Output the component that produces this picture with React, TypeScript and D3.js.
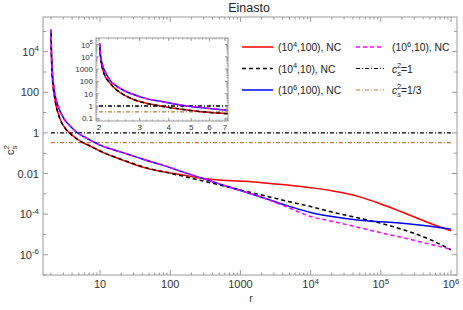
import React from 'react';
import * as d3 from 'd3';

// radius values (r)
const rValues = [2.012, 2.03, 2.06, 2.1, 2.15, 2.23, 2.35, 2.54, 2.8, 3.2, 3.67, 4.7, 6, 7, 10, 16, 25, 41, 72, 100, 150, 295, 500, 1000, 2000, 5000, 1e4, 2e4, 5e4, 1e5, 2e5, 5e5, 1e6];
// log10(c_s^2) for each series
const redLog = [5.0, 3.95, 3.2, 2.65, 2.25, 1.87, 1.4, 0.95, 0.55, 0.22, 0.0, -0.3, -0.52, -0.62, -0.9, -1.19, -1.44, -1.69, -1.89, -1.97, -2.07, -2.25, -2.32, -2.38, -2.45, -2.58, -2.7, -2.85, -3.15, -3.5, -3.9, -4.45, -4.82];
const blackLog = [5.0, 3.95, 3.2, 2.65, 2.25, 1.87, 1.4, 0.95, 0.55, 0.22, 0.0, -0.3, -0.52, -0.62, -0.89, -1.18, -1.42, -1.67, -1.88, -1.99, -2.13, -2.37, -2.56, -2.81, -3.06, -3.39, -3.63, -3.9, -4.2, -4.45, -4.75, -5.25, -5.76];
const blueLog = [5.1, 4.15, 3.5, 3.0, 2.6, 2.1, 1.7, 1.3, 0.95, 0.6, 0.38, 0.02, -0.2, -0.33, -0.6, -0.84, -1.05, -1.3, -1.55, -1.71, -1.92, -2.25, -2.51, -2.84, -3.17, -3.62, -3.92, -4.12, -4.3, -4.38, -4.45, -4.6, -4.74];
const magentaLog = [5.1, 4.15, 3.5, 3.0, 2.6, 2.1, 1.7, 1.3, 0.95, 0.6, 0.38, 0.02, -0.2, -0.33, -0.6, -0.84, -1.05, -1.3, -1.55, -1.71, -1.92, -2.25, -2.51, -2.84, -3.17, -3.7, -4.12, -4.35, -4.67, -4.92, -5.15, -5.48, -5.73];
const hLines = [1, 1 / 3];
const hRange = [2, 1e6];

const mainXTicks = [10, 100, 1000, 1e4, 1e5, 1e6];
const mainXLabels = [['10', ''], ['100', ''], ['1000', ''], ['10', '4'], ['10', '5'], ['10', '6']];
const mainYTicks = [1e4, 100, 1, 0.01, 1e-4, 1e-6];
const mainYLabels = [['10', '4'], ['100', ''], ['1', ''], ['0.01', ''], ['10', '-4'], ['10', '-6']];
const insetXTicks = [2, 3, 4, 5, 6, 7];
const insetYTicks = [1e5, 1e4, 1000, 100, 10, 1, 0.1];
const insetYLabels = [['10', '5'], ['10', '4'], ['1000', ''], ['100', ''], ['10', ''], ['1', ''], ['0.1', '']];

const legendItems = [
  { label: ['(10', '4', ',100), NC'], color: '#ff0000', dash: '' },
  { label: ['(10', '4', ',10), NC'], color: '#000000', dash: '4,3' },
  { label: ['(10', '6', ',100), NC'], color: '#0000ff', dash: '' },
  { label: ['(10', '6', ',10), NC'], color: '#ff00ff', dash: '4,3' },
];

const FONT = 'Liberation Sans, Arial, sans-serif';
const FRAME = '#9a9a9a';
const TXT = '#333';

const M = { left: 43, right: 457, top: 17, bottom: 275 };
const I = { left: 96, right: 228, top: 38, bottom: 121 };

const xMain = d3.scaleLog().domain([10 ** 0.188, 10 ** 6.085]).range([M.left, M.right]);
const yMain = d3.scaleLog().domain([1e-7, 10 ** 5.71]).range([M.bottom, M.top]);
const xIn = d3.scaleLog().domain([10 ** 0.288, 10 ** 0.858]).range([I.left, I.right]);
const yIn = d3.scaleLog().domain([10 ** -1.22, 10 ** 5.53]).range([I.bottom, I.top]);

const series = [
  { vals: redLog, color: '#ff0000', dash: '' },
  { vals: blackLog, color: '#000000', dash: '4,3' },
  { vals: blueLog, color: '#0000ff', dash: '' },
  { vals: magentaLog, color: '#ff00ff', dash: '4,3' },
];

function Sup({ x, y, base, sup, anchor, size }: any) {
  return (
    <text x={x} y={y} textAnchor={anchor} fontSize={size} fontFamily={FONT} fill={TXT}>
      {base}
      {sup ? <tspan dy={-size * 0.4} fontSize={size * 0.72}>{sup}</tspan> : null}
    </text>
  );
}

export default function App() {
  const mkLine = (xs: any, ys: any, maxR: number) =>
    (vals: number[]) => {
      const pts = rValues.map((r, i) => [r, 10 ** vals[i]] as [number, number]).filter(p => p[0] <= maxR * 1.5);
      return d3.line<[number, number]>().x(d => xs(d[0])).y(d => ys(d[1])).curve(d3.curveMonotoneX)(pts) || '';
    };
  const mainLine = mkLine(xMain, yMain, 1e7);
  const inLine = mkLine(xIn, yIn, 10);

  const minorX: number[] = [];
  for (let e = 0; e <= 5; e++) for (let k = 2; k <= 9; k++) {
    const v = k * 10 ** e;
    if (v >= xMain.domain()[0] && v <= xMain.domain()[1]) minorX.push(v);
  }
  const minorY = [1e5, 1e3, 10, 0.1, 1e-3, 1e-5, 1e-7].filter(v => v >= 1e-7 && v <= yMain.domain()[1]);
  const inMinorX: number[] = [];
  for (let v = 2; v <= 7.2; v += 0.2) inMinorX.push(+v.toFixed(1));
  const inMinorY: number[] = [];
  for (let e = -2; e <= 5; e++) for (let k = 2; k <= 9; k++) {
    const v = k * 10 ** e;
    if (v >= yIn.domain()[0] && v <= yIn.domain()[1]) inMinorY.push(v);
  }

  return (
    <svg width={463} height={310} style={{ position: 'absolute', left: 0, top: 0, background: '#fff' }}>
      <defs>
        <clipPath id="cm"><rect x={M.left} y={M.top} width={M.right - M.left} height={M.bottom - M.top} /></clipPath>
        <clipPath id="ci"><rect x={I.left} y={I.top} width={I.right - I.left} height={I.bottom - I.top} /></clipPath>
      </defs>
      <text x={249} y={12} textAnchor="middle" fontSize={12.5} fontFamily={FONT} fill="#222">Einasto</text>

      {/* main frame */}
      <rect x={M.left} y={M.top} width={M.right - M.left} height={M.bottom - M.top} fill="none" stroke={FRAME} strokeWidth={1} />
      {mainXTicks.map(v => (
        <g key={'mx' + v}>
          <line x1={xMain(v)} x2={xMain(v)} y1={M.bottom} y2={M.bottom - 5} stroke={FRAME} />
          <line x1={xMain(v)} x2={xMain(v)} y1={M.top} y2={M.top + 5} stroke={FRAME} />
        </g>
      ))}
      {minorX.map(v => (
        <g key={'mnx' + v}>
          <line x1={xMain(v)} x2={xMain(v)} y1={M.bottom} y2={M.bottom - 2.5} stroke={FRAME} />
          <line x1={xMain(v)} x2={xMain(v)} y1={M.top} y2={M.top + 2.5} stroke={FRAME} />
        </g>
      ))}
      {mainYTicks.map(v => (
        <g key={'my' + v}>
          <line x1={M.left} x2={M.left + 5} y1={yMain(v)} y2={yMain(v)} stroke={FRAME} />
          <line x1={M.right} x2={M.right - 5} y1={yMain(v)} y2={yMain(v)} stroke={FRAME} />
        </g>
      ))}
      {minorY.map(v => (
        <g key={'mny' + v}>
          <line x1={M.left} x2={M.left + 3} y1={yMain(v)} y2={yMain(v)} stroke={FRAME} />
          <line x1={M.right} x2={M.right - 3} y1={yMain(v)} y2={yMain(v)} stroke={FRAME} />
        </g>
      ))}
      {mainXTicks.map((v, i) => (
        <Sup key={'mxl' + v} x={xMain(v)} y={M.bottom + 13} base={mainXLabels[i][0]} sup={mainXLabels[i][1]} anchor="middle" size={11} />
      ))}
      {mainYTicks.map((v, i) => (
        <Sup key={'myl' + v} x={M.left - 4} y={yMain(v) + 4} base={mainYLabels[i][0]} sup={mainYLabels[i][1]} anchor="end" size={11} />
      ))}
      <text x={251} y={302} textAnchor="middle" fontSize={11} fontFamily={FONT} fill={TXT}>r</text>
      <text transform="translate(14,150) rotate(-90)" textAnchor="middle" fontSize={11} fontFamily={FONT} fill={TXT}>
        c<tspan dy={3} fontSize={8}>s</tspan><tspan dy={-8} dx={-4} fontSize={8}>2</tspan>
      </text>

      {/* main curves */}
      <g clipPath="url(#cm)">
        {hLines.map((h, i) => (
          <line key={'h' + i} x1={xMain(hRange[0])} x2={xMain(hRange[1])} y1={yMain(h)} y2={yMain(h)}
            stroke={i === 0 ? '#000' : '#c07a3a'} strokeWidth={1.3} strokeDasharray="4,2,1,2" />
        ))}
        {series.map((s, i) => (
          <path key={'s' + i} d={mainLine(s.vals)} fill="none" stroke={s.color} strokeWidth={1.5} strokeDasharray={s.dash} />
        ))}
      </g>

      {/* inset */}
      <rect x={I.left} y={I.top} width={I.right - I.left} height={I.bottom - I.top} fill="#fff" stroke={FRAME} strokeWidth={1} />
      <g clipPath="url(#ci)">
        {hLines.map((h, i) => (
          <line key={'ih' + i} x1={xIn(hRange[0])} x2={I.right} y1={yIn(h)} y2={yIn(h)}
            stroke={i === 0 ? '#000' : '#c07a3a'} strokeWidth={1.3} strokeDasharray="4,2,1,2" />
        ))}
        {series.map((s, i) => (
          <path key={'is' + i} d={inLine(s.vals)} fill="none" stroke={s.color} strokeWidth={1.5} strokeDasharray={s.dash} />
        ))}
      </g>
      {insetXTicks.map(v => (
        <g key={'ix' + v}>
          <line x1={xIn(v)} x2={xIn(v)} y1={I.bottom} y2={I.bottom - 3} stroke={FRAME} />
          <line x1={xIn(v)} x2={xIn(v)} y1={I.top} y2={I.top + 3} stroke={FRAME} />
          <text x={xIn(v)} y={I.bottom + 9} textAnchor="middle" fontSize={8} fontFamily={FONT} fill={TXT}>{v}</text>
        </g>
      ))}
      {inMinorX.map(v => (
        <g key={'imx' + v}>
          <line x1={xIn(v)} x2={xIn(v)} y1={I.bottom} y2={I.bottom - 1.5} stroke={FRAME} />
          <line x1={xIn(v)} x2={xIn(v)} y1={I.top} y2={I.top + 1.5} stroke={FRAME} />
        </g>
      ))}
      {insetYTicks.map((v, i) => (
        <g key={'iy' + v}>
          <line x1={I.left} x2={I.left + 3} y1={yIn(v)} y2={yIn(v)} stroke={FRAME} />
          <line x1={I.right} x2={I.right - 3} y1={yIn(v)} y2={yIn(v)} stroke={FRAME} />
          <Sup x={I.left - 3} y={yIn(v) + 3} base={insetYLabels[i][0]} sup={insetYLabels[i][1]} anchor="end" size={8} />
        </g>
      ))}
      {inMinorY.map(v => (
        <g key={'imy' + v}>
          <line x1={I.left} x2={I.left + 1.5} y1={yIn(v)} y2={yIn(v)} stroke={FRAME} />
          <line x1={I.right} x2={I.right - 1.5} y1={yIn(v)} y2={yIn(v)} stroke={FRAME} />
        </g>
      ))}

      {/* legend */}
      {legendItems.map((it, i) => {
        const col = i < 3 ? 0 : 1;
        const row = i < 3 ? i : 0;
        const lx = col === 0 ? 242 : 356;
        const lw = col === 0 ? 31 : 28;
        const tx = col === 0 ? 278 : 392;
        const y = 47 + row * 21.5;
        return (
          <g key={'lg' + i}>
            <line x1={lx} x2={lx + lw} y1={y} y2={y} stroke={it.color} strokeWidth={1.5} strokeDasharray={it.dash} />
            <text x={tx} y={y + 4} fontSize={10.3} fontFamily={FONT} fill="#222">
              {it.label[0]}<tspan dy={-4.5} fontSize={7.5}>{it.label[1]}</tspan><tspan dy={4.5}>{it.label[2]}</tspan>
            </text>
          </g>
        );
      })}
      {hLines.map((h, i) => {
        const y = 47 + (i + 1) * 21.5;
        return (
          <g key={'lh' + i}>
            <line x1={356} x2={384} y1={y} y2={y} stroke={i === 0 ? '#000' : '#c07a3a'} strokeWidth={1.2} strokeDasharray="4,2,1,2" />
            <text x={392} y={y + 4} fontSize={10.3} fontFamily={FONT} fill="#222">
              <tspan fontStyle="italic">c</tspan><tspan dy={3} fontSize={7.5} fontStyle="italic">s</tspan>
              <tspan dy={-8} dx={-4} fontSize={7.5}>2</tspan><tspan dy={5}>{i === 0 ? '=1' : '=1/3'}</tspan>
            </text>
          </g>
        );
      })}
    </svg>
  );
}
